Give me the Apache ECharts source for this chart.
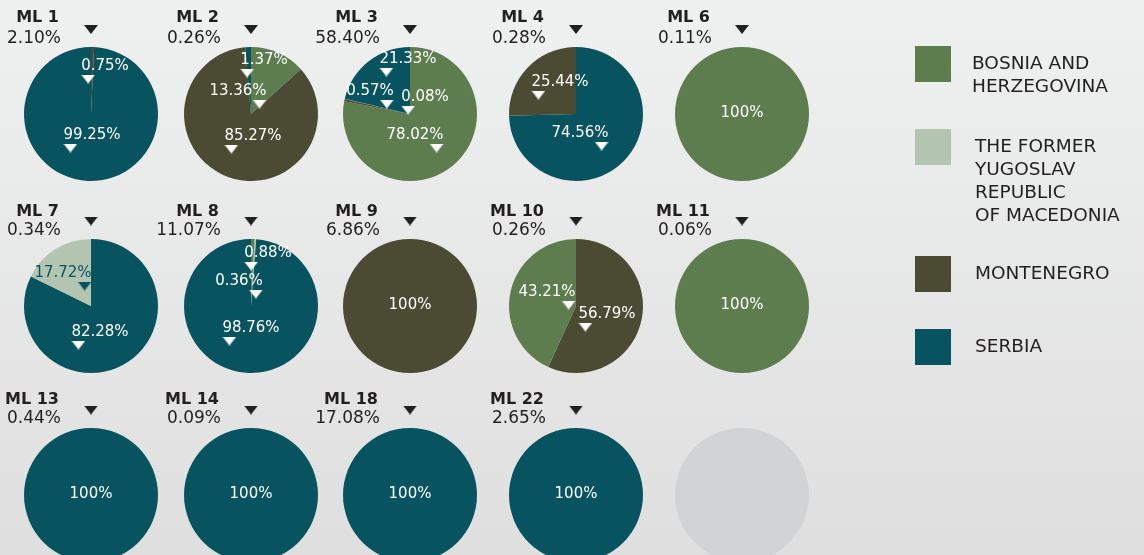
<!DOCTYPE html>
<html>
<head>
<meta charset="utf-8">
<style>
  html, body { margin: 0; padding: 0; }
  #chart { width: 1144px; height: 555px; }
</style>
<script src="https://cdn.jsdelivr.net/npm/echarts@6/dist/echarts.min.js"></script>
</head>
<body>
<div id="chart"></div>
<script>
// ---- data -------------------------------------------------------------
const districts = ['ML 1', 'ML 2', 'ML 3', 'ML 4', 'ML 6', 'ML 7', 'ML 8', 'ML 9',
                   'ML 10', 'ML 11', 'ML 13', 'ML 14', 'ML 18', 'ML 22'];
// share of each district in the total (%)
const shares = [2.10, 0.26, 58.40, 0.28, 0.11, 0.34, 11.07, 6.86, 0.26, 0.06, 0.44, 0.09, 17.08, 2.65];
const countries = ['BOSNIA AND\nHERZEGOVINA', 'THE FORMER\nYUGOSLAV\nREPUBLIC\nOF MACEDONIA',
                   'MONTENEGRO', 'SERBIA'];
// per district: country index of each slice, in drawing order (clockwise from 12 o'clock)
const sliceCountry = [[2, 3], [0, 2, 3], [0, 2, 1, 3], [3, 2], [0], [3, 1], [0, 1, 3], [2],
                      [2, 0], [0], [3], [3], [3], [3]];
// per district: slice values (%)
const sliceValue = [[0.75, 99.25], [13.36, 85.27, 1.37], [78.02, 0.57, 0.08, 21.33], [74.56, 25.44],
                    [100], [82.28, 17.72], [0.88, 0.36, 98.76], [100], [56.79, 43.21], [100],
                    [100], [100], [100], [100]];

// ---- layout & style ---------------------------------------------------
const palette = ['#5e7d4e', '#b3c5b1', '#4b4b33', '#07535f'];
const ink = '#231f20';
const FONT = '"DejaVu Sans", "Noto Sans", sans-serif';
const colX = [91, 251, 410, 576, 742];
const rowY = [114, 306, 495];
const R = 67;
const slots = [[0, 0], [0, 1], [0, 2], [0, 3], [0, 4], [1, 0], [1, 1], [1, 2], [1, 3], [1, 4],
               [2, 0], [2, 1], [2, 2], [2, 3]];
const emptySlot = [2, 4];
const headerY = [{ name: 18, pct: 39, tri: 29.5 }, { name: 212, pct: 231, tri: 221 },
                 { name: 400, pct: 419, tri: 410 }];
// slice label placement relative to the pie centre: [dx, dy, pointer side, tone]
// tone 't' = dark teal text for a label sitting on a pale slice
const labelPlace = [
  [[14, -48, 'l'], [1, 21, 'l']],
  [[-13, -23, 'r'], [2, 22, 'l'], [13, -54, 'l']],
  [[5, 21, 'r'], [-40, -23, 'r'], [15, -17, 'l'], [-2, -55, 'l']],
  [[4, 19, 'r'], [-16, -32, 'l']],
  [[0, -1, null]],
  [[9, 26, 'l'], [-28, -33, 'r', 't']],
  [[17, -53, 'l'], [-12, -25, 'r'], [0, 22, 'l']],
  [[0, -1, null]],
  [[31, 8, 'l'], [-29, -14, 'r']],
  [[0, -1, null]],
  [[0, -1, null]], [[0, -1, null]], [[0, -1, null]], [[0, -1, null]]
];
const legendTop = [46, 129, 256, 329];
const legendTextX = [972, 975, 975, 975];

// small downward pointer drawn once and reused as an image
function pointer(color) {
  const c = document.createElement('canvas');
  c.width = 14; c.height = 9;
  const g = c.getContext('2d');
  g.fillStyle = color;
  g.beginPath(); g.moveTo(0, 0); g.lineTo(14, 0); g.lineTo(7, 9); g.closePath(); g.fill();
  return c;
}
const triWhite = pointer('#ffffff');
const triTeal = pointer(palette[3]);
const triInk = pointer(ink);

const valueStyle = { fontSize: 15, lineHeight: 16, fontFamily: FONT, fontWeight: 'normal' };
const tokenStyle = { width: 14, height: 9, lineHeight: 10 };
const rich = {
  vw: Object.assign({ color: '#ffffff' }, valueStyle),
  vt: Object.assign({ color: palette[3] }, valueStyle),
  lw: Object.assign({ backgroundColor: { image: triWhite }, align: 'left' }, tokenStyle),
  rw: Object.assign({ backgroundColor: { image: triWhite }, align: 'right' }, tokenStyle),
  lt: Object.assign({ backgroundColor: { image: triTeal }, align: 'left' }, tokenStyle),
  rt: Object.assign({ backgroundColor: { image: triTeal }, align: 'right' }, tokenStyle)
};

function fmtPct(v) { return v === 100 ? '100%' : v.toFixed(2) + '%'; }

const series = districts.map((name, d) => {
  const [r, c] = slots[d];
  const cx = colX[c], cy = rowY[r];
  return {
    type: 'pie',
    name: name,
    center: [cx, cy],
    radius: R,
    startAngle: 90,
    clockwise: true,
    silent: true,
    data: sliceValue[d].map((v, i) => ({
      value: v,
      name: countries[sliceCountry[d][i]],
      itemStyle: { color: palette[sliceCountry[d][i]] }
    })),
    label: {
      show: true,
      position: 'inside',
      color: '#ffffff',
      rich: rich,
      formatter: p => {
        const place = labelPlace[d][p.dataIndex];
        const tone = place[3] === 't' ? 't' : 'w';
        const v = '{v' + tone + '|' + fmtPct(p.value) + '}';
        return place[2] ? v + '\n{' + place[2] + tone + '|}' : v;
      }
    },
    labelLine: { show: false },
    labelLayout: p => {
      const [dx, dy, side] = labelPlace[d][p.dataIndex];
      return side
        ? { x: cx + dx, y: cy + dy - 8, align: 'center', verticalAlign: 'top' }
        : { x: cx + dx, y: cy + dy, align: 'center', verticalAlign: 'middle' };
    }
  };
});

// placeholder circle in the unused grid slot
series.push({
  type: 'pie',
  center: [colX[emptySlot[1]], rowY[emptySlot[0]]],
  radius: R,
  silent: true,
  data: [],
  showEmptyCircle: true,
  emptyCircleStyle: { color: '#d2d3d5' },
  label: { show: false }
});

const graphic = [];
districts.forEach((name, d) => {
  const [r, c] = slots[d];
  const cx = colX[c], h = headerY[r];
  graphic.push(
    { type: 'text', x: cx - 32, y: h.name, silent: true,
      style: { text: name, font: 'bold 16px ' + FONT, fill: ink, align: 'right', verticalAlign: 'middle' } },
    { type: 'text', x: cx - 30, y: h.pct, silent: true,
      style: { text: shares[d].toFixed(2) + '%', font: '17px ' + FONT, fill: ink, align: 'right', verticalAlign: 'middle' } },
    { type: 'image', x: cx - 7, y: h.tri - 4.5, silent: true,
      style: { image: triInk, width: 14, height: 9 } }
  );
});
countries.forEach((label, i) => {
  graphic.push(
    { type: 'rect', x: 915, y: legendTop[i], silent: true,
      shape: { width: 36, height: 36 }, style: { fill: palette[i] } },
    { type: 'text', x: legendTextX[i], y: legendTop[i] + 18 - 11.5, silent: true,
      style: { text: label, font: '18.5px ' + FONT, lineHeight: 23, fill: ink, align: 'left', verticalAlign: 'top' } }
  );
});

const chart = echarts.init(document.getElementById('chart'), null, { renderer: 'canvas' });
chart.setOption({
  animation: false,
  backgroundColor: {
    type: 'linear', x: 0, y: 0, x2: 0, y2: 1,
    colorStops: [{ offset: 0, color: '#eff0f0' }, { offset: 1, color: '#dfdfdf' }]
  },
  series: series,
  graphic: graphic
});
</script>
</body>
</html>
